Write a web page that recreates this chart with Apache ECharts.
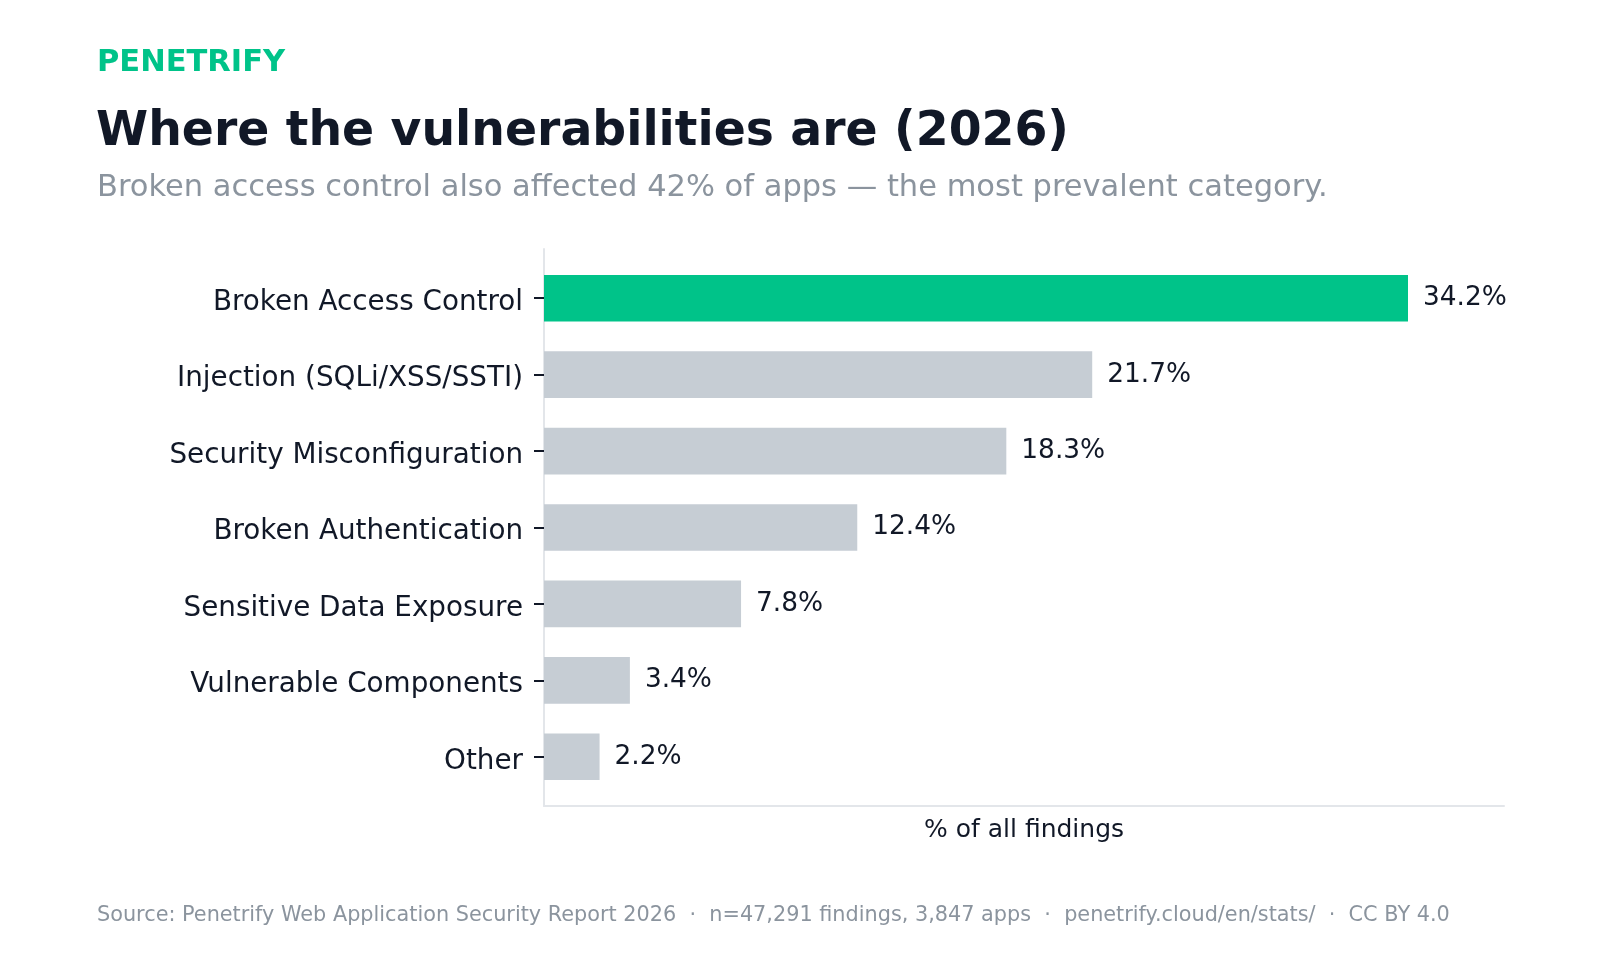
<!DOCTYPE html>
<html>
<head>
<meta charset="utf-8">
<script src="https://cdn.jsdelivr.net/npm/echarts@6/dist/echarts.min.js"></script>
<style>
  html, body { margin: 0; padding: 0; background: #ffffff; }
  #chart { width: 1600px; height: 960px; }
</style>
</head>
<body>
<div id="chart"></div>
<script>
const categories = [
  'Broken Access Control',
  'Injection (SQLi/XSS/SSTI)',
  'Security Misconfiguration',
  'Broken Authentication',
  'Sensitive Data Exposure',
  'Vulnerable Components',
  'Other'
];
const shares = [34.2, 21.7, 18.3, 12.4, 7.8, 3.4, 2.2];
const highlighted = ['Broken Access Control'];

const brandText = 'PENETRIFY';
const titleText = 'Where the vulnerabilities are (2026)';
const subtitleText = 'Broken access control also affected 42% of apps \u2014 the most prevalent category.';
const footerText = 'Source: Penetrify Web Application Security Report 2026  \u00b7  n=47,291 findings, 3,847 apps  \u00b7  penetrify.cloud/en/stats/  \u00b7  CC BY 4.0';
const xAxisName = '% of all findings';

const GREEN = '#00C389';
const GRAY_BAR = '#C6CDD4';
const DARK = '#111827';
const MUTED = '#8B949E';
const AXIS = '#E3E6EA';
const FONT = '"DejaVu Sans", sans-serif';

const chart = echarts.init(document.getElementById('chart'), null, { renderer: 'canvas' });

const option = {
  backgroundColor: '#ffffff',
  animation: false,
  textStyle: { fontFamily: FONT },
  title: [
    { text: brandText, left: 92, top: 40,
      textStyle: { fontFamily: FONT, fontSize: 30.5, fontWeight: 'bold', color: GREEN, lineHeight: 36 } },
    { text: titleText, left: 91, top: 101,
      textStyle: { fontFamily: FONT, fontSize: 47.3, fontWeight: 'bold', color: DARK, lineHeight: 54 } },
    { text: subtitleText, left: 92, top: 165,
      textStyle: { fontFamily: FONT, fontSize: 30.5, fontWeight: 'normal', color: MUTED, lineHeight: 36 } },
    { text: footerText, left: 92, top: 898,
      textStyle: { fontFamily: FONT, fontSize: 20.8, fontWeight: 'normal', color: MUTED, lineHeight: 26 } }
  ],
  grid: [
    { left: 544, right: 96, top: 249, bottom: 154, containLabel: false },
    { left: 544, right: 96, top: 260, bottom: 165, containLabel: false }
  ],
  xAxis: [
    {
      gridIndex: 0, type: 'value', min: 0, max: 38,
      axisLine: { show: true, lineStyle: { color: AXIS, width: 2 } },
      axisTick: { show: false }, axisLabel: { show: false }, splitLine: { show: false },
      name: xAxisName, nameLocation: 'middle', nameGap: 12,
      nameTextStyle: { fontFamily: FONT, fontSize: 25, color: DARK, verticalAlign: 'top' }
    },
    {
      gridIndex: 1, type: 'value', min: 0, max: 38, show: false
    }
  ],
  yAxis: [
    {
      gridIndex: 0, type: 'value', min: 0, max: 1,
      axisLine: { show: true, onZero: false, lineStyle: { color: AXIS, width: 2 } },
      axisTick: { show: false }, axisLabel: { show: false }, splitLine: { show: false }
    },
    {
      gridIndex: 1, type: 'category', data: categories, inverse: true,
      axisLine: { show: false },
      axisTick: { show: true, alignWithLabel: true, length: 10, lineStyle: { color: DARK, width: 2 } },
      axisLabel: { fontFamily: FONT, fontSize: 27.8, color: DARK, margin: 21,
                   verticalAlign: 'top', lineHeight: 9 },
      splitLine: { show: false }
    }
  ],
  series: [
    {
      type: 'bar', xAxisIndex: 1, yAxisIndex: 1,
      barWidth: '61%',
      data: shares.map((v, i) => ({
        value: v,
        itemStyle: { color: highlighted.includes(categories[i]) ? GREEN : GRAY_BAR }
      })),
      label: {
        show: true, position: 'right', distance: 15,
        fontFamily: FONT, fontSize: 26.4, color: DARK,
        formatter: p => p.value.toFixed(1) + '%'
      }
    }
  ]
};
chart.setOption(option);
</script>
</body>
</html>
